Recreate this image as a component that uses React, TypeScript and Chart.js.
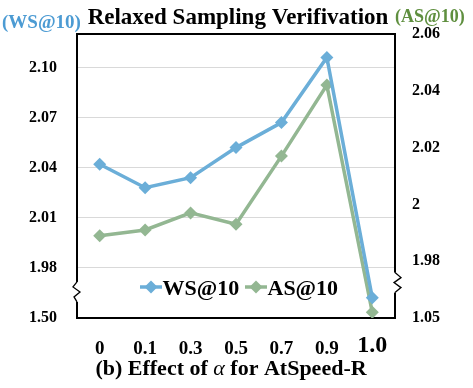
import { useEffect, useRef } from 'react';
import { Chart, registerables } from 'chart.js';

Chart.register(...registerables);

const categories = ['0', '0.1', '0.3', '0.5', '0.7', '0.9', '1.0'];
const wsValues = [2.042, 2.028, 2.034, 2.052, 2.067, 2.106, 1.693];
const asValues = [1.989, 1.991, 1.997, 1.993, 2.017, 2.042, 1.143];
const leftTickValues = [1.5, 1.98, 2.01, 2.04, 2.07, 2.1];
const leftTickLabels = ['1.50', '1.98', '2.01', '2.04', '2.07', '2.10'];
const rightTickValues = [1.05, 1.98, 2.0, 2.02, 2.04, 2.06];
const rightTickLabels = ['1.05', '1.98', '2', '2.02', '2.04', '2.06'];
const seriesNames = ['WS@10', 'AS@10'];

const FONT = '"Liberation Serif", "Times New Roman", serif';
const BLUE = '#6BAED8';
const GREEN = '#93B792';
const BLUE_TEXT = '#4C9BD3';
const GREEN_TEXT = '#5F8F3F';

// broken axis: values below the break are compressed into one tick step
function makeBreak(ticks: number[]) {
  const bottom = ticks[0];
  const brk = ticks[1];
  const step = ticks[2] - ticks[1];
  return (v: number) => (v >= brk ? v : brk - ((brk - v) * step) / (brk - bottom));
}
const leftDisp = makeBreak(leftTickValues);
const rightDisp = makeBreak(rightTickValues);

const decor = {
  id: 'decor',
  beforeDatasetsDraw(chart: any) {
    const { ctx, chartArea: a } = chart;
    ctx.save();
    ctx.strokeStyle = '#000';
    ctx.lineWidth = 2;
    ctx.strokeRect(a.left, a.top, a.right - a.left, a.bottom - a.top);
    // break marks
    const yl = chart.scales.yL.getPixelForValue(leftDisp(leftTickValues[1]));
    const yr = chart.scales.yR.getPixelForValue(rightDisp(rightTickValues[1]));
    const lc = (yl + a.bottom) / 2 - 1;
    const rc = (yr + a.bottom) / 2 - 7;
    ctx.fillStyle = '#fff';
    ctx.fillRect(a.left - 2, lc - 10, 4, 20);
    ctx.fillRect(a.right - 2, rc - 10, 4, 20);
    ctx.lineWidth = 1.3;
    ctx.beginPath();
    const lz = [[0, -10], [-4, -5], [3, 0], [-3, 5], [0, 10]];
    lz.forEach(([dx, dy], i) => {
      const x = a.left + dx, y = lc + dy;
      if (i === 0) ctx.moveTo(x, y); else ctx.lineTo(x, y);
    });
    ctx.stroke();
    ctx.beginPath();
    const rz = [[0, -10], [6, -5], [-1, 0], [6, 5], [0, 10]];
    rz.forEach(([dx, dy], i) => {
      const x = a.right + dx, y = rc + dy;
      if (i === 0) ctx.moveTo(x, y); else ctx.lineTo(x, y);
    });
    ctx.stroke();
    ctx.restore();
  },
  afterDraw(chart: any) {
    const { ctx } = chart;
    ctx.save();
    ctx.textBaseline = 'alphabetic';
    // main title
    ctx.fillStyle = '#000';
    ctx.font = `bold 23px ${FONT}`;
    ctx.textAlign = 'center';
    ctx.fillText('Relaxed Sampling Verifivation', 238, 24);
    // axis titles
    ctx.font = `bold 19px ${FONT}`;
    ctx.textAlign = 'left';
    ctx.fillStyle = BLUE_TEXT;
    ctx.fillText('(' + seriesNames[0] + ')', 2, 28);
    ctx.font = `bold 18px ${FONT}`;
    ctx.fillStyle = GREEN_TEXT;
    ctx.fillText('(' + seriesNames[1] + ')', 395, 22);
    // x-axis title with italic alpha
    const parts: [string, string][] = [
      ['(b) Effect of ', `bold 22px ${FONT}`],
      ['α', `italic 22px ${FONT}`],
      [' for AtSpeed-R', `bold 22px ${FONT}`],
    ];
    let total = 0;
    parts.forEach(([t, f]) => { ctx.font = f; total += ctx.measureText(t).width; });
    let x = 231 - total / 2;
    ctx.fillStyle = '#000';
    parts.forEach(([t, f]) => { ctx.font = f; ctx.fillText(t, x, 375); x += ctx.measureText(t).width; });
    // legend
    const items = [
      { color: BLUE, name: seriesNames[0], x0: 140 },
      { color: GREEN, name: seriesNames[1], x0: 245 },
    ];
    const ly = 287;
    items.forEach((it) => {
      ctx.strokeStyle = it.color;
      ctx.lineWidth = 3.5;
      ctx.beginPath();
      ctx.moveTo(it.x0, ly);
      ctx.lineTo(it.x0 + 22, ly);
      ctx.stroke();
      ctx.fillStyle = it.color;
      const cx = it.x0 + 11, r = 6.5;
      ctx.beginPath();
      ctx.moveTo(cx, ly - r);
      ctx.lineTo(cx + r, ly);
      ctx.lineTo(cx, ly + r);
      ctx.lineTo(cx - r, ly);
      ctx.closePath();
      ctx.fill();
      ctx.fillStyle = '#000';
      ctx.font = `bold 22px ${FONT}`;
      ctx.textAlign = 'left';
      ctx.fillText(it.name, it.x0 + 22.5, 294.7);
    });
    ctx.restore();
  },
};

export default function App() {
  const ref = useRef<HTMLCanvasElement | null>(null);
  useEffect(() => {
    if (!ref.current) return;
    const chart = new Chart(ref.current, {
      type: 'line',
      data: {
        labels: categories,
        datasets: [
          {
            label: seriesNames[0],
            data: wsValues.map(leftDisp),
            yAxisID: 'yL',
            borderColor: BLUE,
            backgroundColor: BLUE,
            borderWidth: 3.5,
            pointStyle: 'rectRot',
            pointRadius: 6.5,
            pointBorderWidth: 0,
            pointBackgroundColor: BLUE,
            tension: 0,
          },
          {
            label: seriesNames[1],
            data: asValues.map(rightDisp),
            yAxisID: 'yR',
            borderColor: GREEN,
            backgroundColor: GREEN,
            borderWidth: 3.5,
            pointStyle: 'rectRot',
            pointRadius: 6.5,
            pointBorderWidth: 0,
            pointBackgroundColor: GREEN,
            tension: 0,
          },
        ],
      },
      options: {
        responsive: false,
        animation: false,
        devicePixelRatio: 1,
        layout: { padding: { top: 34, left: 0, right: 0, bottom: 0 } },
        plugins: {
          legend: { display: false },
          title: { display: false },
          tooltip: { enabled: false },
        },
        scales: {
          x: {
            offset: true,
            grid: { display: false, drawTicks: false },
            border: { display: false },
            ticks: {
              padding: 28,
              crossAlign: 'center',
              color: '#000',
              font: (c: any) => ({
                family: FONT,
                weight: 'bold',
                size: c.index === categories.length - 1 ? 24 : 19,
              }),
            },
            afterFit: (s: any) => { s.height = 70; },
          },
          yL: {
            position: 'left',
            min: leftDisp(leftTickValues[0]),
            max: 2.12,
            grid: {
              drawTicks: false,
              color: (c: any) => (c.index === 0 ? 'rgba(0,0,0,0)' : '#D9D9D9'),
              lineWidth: 1,
            },
            border: { display: false },
            afterBuildTicks: (s: any) => {
              s.ticks = leftTickValues.map((v) => ({ value: leftDisp(v) }));
            },
            ticks: {
              padding: 20,
              color: '#000',
              font: { family: FONT, weight: 'bold', size: 16 },
              callback: (_v: any, i: number) => leftTickLabels[i],
            },
            afterFit: (s: any) => { s.width = 77; },
          },
          yR: {
            position: 'right',
            min: rightDisp(rightTickValues[0]),
            max: 2.06,
            grid: { display: false, drawTicks: false },
            border: { display: false },
            afterBuildTicks: (s: any) => {
              s.ticks = rightTickValues.map((v) => ({ value: rightDisp(v) }));
            },
            ticks: {
              padding: 17,
              color: '#000',
              font: { family: FONT, weight: 'bold', size: 16 },
              callback: (_v: any, i: number) => rightTickLabels[i],
            },
            afterFit: (s: any) => { s.width = 78; },
          },
        },
      },
      plugins: [decor],
    });
    return () => chart.destroy();
  }, []);
  return (
    <div style={{ position: 'fixed', left: 0, top: 0, width: 473, height: 388, background: '#fff' }}>
      <canvas ref={ref} width={473} height={388} style={{ display: 'block' }} />
    </div>
  );
}
